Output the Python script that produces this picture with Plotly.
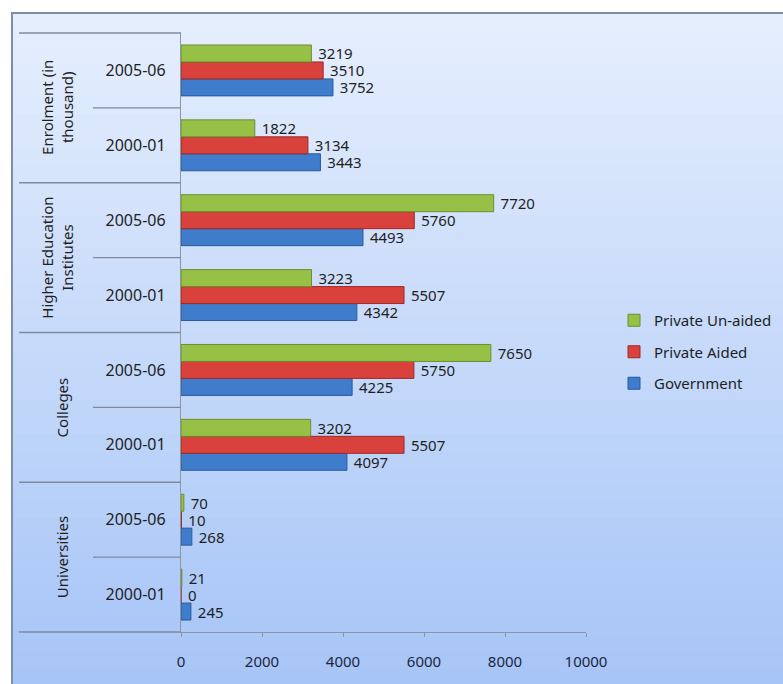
import plotly.graph_objects as go

# ---- data ----
groups = ["Universities", "Colleges", "Higher Education Institutes", "Enrolment (in thousand)"]
group_labels = ["Universities", "Colleges", "Higher Education<br>Institutes", "Enrolment (in<br>thousand)"]
periods = ["2000-01", "2005-06"]
government = [245, 268, 4097, 4225, 4342, 4493, 3443, 3752]
private_aided = [0, 10, 5507, 5750, 5507, 5760, 3134, 3510]
private_unaided = [21, 70, 3202, 7650, 3223, 7720, 1822, 3219]
x_ticks = [0, 2000, 4000, 6000, 8000, 10000]
x_ticktext = ["0", "2000", "4000", "6000", "8000", "10000"]

W, H = 783, 684
L, R, T, B = 181, 586, 33, 632   # plot area in px
pw, ph = R - L, B - T

def px_x(px):
    return (px - L) / pw

def px_y(py):
    return (B - py) / ph

ypos = list(range(len(groups) * len(periods)))
ticktext = [p for g in groups for p in periods]

FONT = "Noto Sans"
TXT = "#1f1f1f"

series = [
    ("Government", government, "#3f7ccc", "#2a5a9c", 3),
    ("Private Aided", private_aided, "#d8413c", "#9e2a27", 2),
    ("Private Un-aided", private_unaided, "#97c146", "#6b8f2c", 1),
]

fig = go.Figure()
for i, (name, vals, col, lcol, rank) in enumerate(series):
    fig.add_trace(go.Bar(
        name=name, y=ypos, x=vals, orientation="h",
        marker=dict(color=col, line=dict(color=lcol, width=1)),
        texttemplate=" %{x}", textposition="outside",
        constraintext="none",
        textfont=dict(family=FONT, size=15, color=TXT),
        cliponaxis=False, legendgroup=f"g{i}", legendrank=rank,
    ))

shapes = []
# gradient background (style only)
top_c = (0xE5, 0xEE, 0xFD)
bot_c = (0xA7, 0xC5, 0xF7)
N = 40
y_top, y_bot = 13, H + 2
for k in range(N):
    t = k / (N - 1)
    c = tuple(int(round(top_c[j] + (bot_c[j] - top_c[j]) * t)) for j in range(3))
    ya = y_top + (y_bot - y_top) * k / N
    yb = y_top + (y_bot - y_top) * (k + 1) / N + 1
    shapes.append(dict(type="rect", xref="paper", yref="paper", layer="below",
                       x0=px_x(12), x1=px_x(W + 5), y0=px_y(yb), y1=px_y(ya),
                       fillcolor=f"rgb{c}", line=dict(width=0)))
# outer frame
shapes.append(dict(type="rect", xref="paper", yref="paper", layer="below",
                   x0=px_x(12), x1=px_x(W + 10), y0=px_y(H + 10), y1=px_y(13),
                   fillcolor="rgba(0,0,0,0)", line=dict(color="#7d8ea6", width=2)))
# category separators
for gi in range(len(groups) + 1):
    yv = gi / len(groups)
    shapes.append(dict(type="line", xref="paper", yref="paper",
                       x0=px_x(19), x1=0, y0=yv, y1=yv,
                       line=dict(color="#7f8b9c", width=1.3)))
for gi in range(len(groups)):
    yv = gi * 2 + 0.5
    shapes.append(dict(type="line", xref="paper", yref="y",
                       x0=px_x(93), x1=0, y0=yv, y1=yv,
                       line=dict(color="#7f8b9c", width=1.3)))

annotations = []
for gi, lab in enumerate(group_labels):
    xc = 57 if "<br>" in lab else 62
    annotations.append(dict(xref="paper", yref="y", x=px_x(xc), y=gi * 2 + 0.5,
                            text=lab, textangle=-90, showarrow=False,
                            xanchor="center", yanchor="middle",
                            font=dict(family=FONT, size=15, color=TXT)))

fig.update_layout(
    width=W, height=H,
    margin=dict(l=L, r=W - R, t=T, b=H - B, pad=0, autoexpand=False),
    paper_bgcolor="white", plot_bgcolor="white",
    barmode="group", bargap=0.32, bargroupgap=0.0,
    font=dict(family=FONT, size=15, color=TXT),
    shapes=shapes, annotations=annotations,
    showlegend=True,
    legend=dict(x=px_x(614), y=px_y(352), xanchor="left", yanchor="middle",
                traceorder="grouped", tracegroupgap=9,
                bgcolor="rgba(0,0,0,0)", font=dict(family=FONT, size=15, color=TXT),
                itemclick=False),
    xaxis=dict(range=[0, 10000], tickvals=x_ticks, ticktext=x_ticktext,
               showgrid=False, zeroline=False,
               showline=True, linecolor="#8c96a3", linewidth=1.3,
               ticks="outside", ticklen=4, tickcolor="#8c96a3",
               ticklabelstandoff=12,
               tickfont=dict(family=FONT, size=15, color="#1c2740")),
    yaxis=dict(range=[-0.5, 7.5], tickvals=ypos, ticktext=ticktext,
               showgrid=False, zeroline=False, showline=True,
               linecolor="#8c96a3", linewidth=1.3, ticks="",
               ticklabelstandoff=11,
               tickfont=dict(family=FONT, size=16, color=TXT)),
)

fig.write_html("out.html", config={"displayModeBar": False},
               post_script="document.body.style.margin='0';document.body.style.overflow='hidden';")
